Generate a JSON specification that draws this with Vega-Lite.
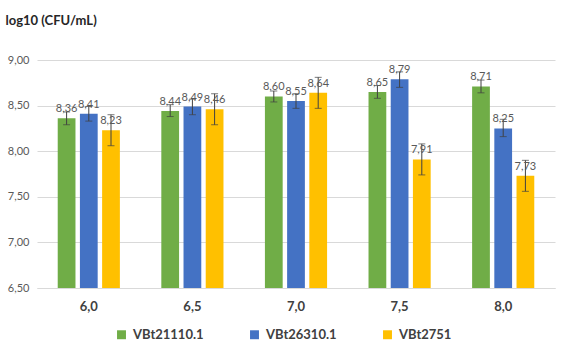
{
  "$schema": "https://vega.github.io/schema/vega-lite/v6.json",
  "width": 518,
  "height": 228,
  "autosize": {"type": "none"},
  "padding": {"left": 37, "top": 60, "right": 15, "bottom": 68},
  "background": "white",
  "config": {
    "font": "Lato",
    "locale": {"number": {"decimal": ",", "thousands": ".", "grouping": [3], "currency": ["", " €"]}},
    "view": {"stroke": null}
  },
  "data": {
    "values": [
      {"ph": "6,0", "strain": "VBt21110.1", "value": 8.36, "lo": 8.29, "hi": 8.43},
      {"ph": "6,0", "strain": "VBt26310.1", "value": 8.41, "lo": 8.33, "hi": 8.49},
      {"ph": "6,0", "strain": "VBt2751", "value": 8.23, "lo": 8.06, "hi": 8.40},
      {"ph": "6,5", "strain": "VBt21110.1", "value": 8.44, "lo": 8.38, "hi": 8.51},
      {"ph": "6,5", "strain": "VBt26310.1", "value": 8.49, "lo": 8.40, "hi": 8.57},
      {"ph": "6,5", "strain": "VBt2751", "value": 8.46, "lo": 8.29, "hi": 8.63},
      {"ph": "7,0", "strain": "VBt21110.1", "value": 8.60, "lo": 8.54, "hi": 8.66},
      {"ph": "7,0", "strain": "VBt26310.1", "value": 8.55, "lo": 8.47, "hi": 8.63},
      {"ph": "7,0", "strain": "VBt2751", "value": 8.64, "lo": 8.47, "hi": 8.81},
      {"ph": "7,5", "strain": "VBt21110.1", "value": 8.65, "lo": 8.58, "hi": 8.72},
      {"ph": "7,5", "strain": "VBt26310.1", "value": 8.79, "lo": 8.70, "hi": 8.87},
      {"ph": "7,5", "strain": "VBt2751", "value": 7.91, "lo": 7.74, "hi": 8.08},
      {"ph": "8,0", "strain": "VBt21110.1", "value": 8.71, "lo": 8.64, "hi": 8.78},
      {"ph": "8,0", "strain": "VBt26310.1", "value": 8.25, "lo": 8.16, "hi": 8.35},
      {"ph": "8,0", "strain": "VBt2751", "value": 7.73, "lo": 7.56, "hi": 7.90}
    ]
  },
  "encoding": {
    "x": {
      "field": "ph", "type": "nominal", "sort": null,
      "scale": {"paddingInner": 0.4, "paddingOuter": 0.2},
      "axis": {
        "title": null, "labelAngle": 0, "labelFontWeight": "bold", "labelFontSize": 13,
        "labelColor": "#404040", "labelPadding": 12, "ticks": false,
        "domainColor": "#D9D9D9", "domainWidth": 1
      }
    },
    "xOffset": {"field": "strain", "type": "nominal", "sort": null, "scale": {"paddingInner": 0.2, "paddingOuter": 0}}
  },
  "layer": [
    {
      "mark": {"type": "bar"},
      "encoding": {
        "y": {
          "field": "value", "type": "quantitative",
          "scale": {"domain": [6.5, 9.0], "zero": false, "nice": false},
          "axis": {
            "values": [6.5, 7.0, 7.5, 8.0, 8.5, 9.0], "format": ".2f",
            "title": "log10 (CFU/mL)", "titleAngle": 0, "titleX": -32, "titleY": -40,
            "titleAlign": "left", "titleBaseline": "middle", "titleFontSize": 13,
            "titleFontWeight": "bold", "titleColor": "#262626",
            "labelFontSize": 11, "labelColor": "#595959", "labelPadding": 8,
            "ticks": false, "domain": false, "gridColor": "#D9D9D9", "gridWidth": 1
          }
        },
        "y2": {"datum": 6.5},
        "color": {
          "field": "strain", "type": "nominal", "sort": null,
          "scale": {"domain": ["VBt21110.1", "VBt26310.1", "VBt2751"], "range": ["#70AD47", "#4472C4", "#FFC000"]},
          "legend": {
            "title": null, "orient": "none", "direction": "horizontal",
            "legendX": 78, "legendY": 268, "symbolType": "square", "symbolSize": 80,
            "symbolStrokeWidth": 0, "labelFontSize": 13, "labelFontWeight": "bold",
            "labelColor": "#404040", "columnPadding": 44, "labelOffset": 5
          }
        }
      }
    },
    {
      "mark": {"type": "rule", "color": "#404040", "strokeWidth": 1},
      "encoding": {
        "y": {"field": "lo", "type": "quantitative"},
        "y2": {"field": "hi"}
      }
    },
    {
      "mark": {"type": "tick", "color": "#404040", "thickness": 1, "size": 7},
      "encoding": {"y": {"field": "lo", "type": "quantitative"}}
    },
    {
      "mark": {"type": "tick", "color": "#404040", "thickness": 1, "size": 7},
      "encoding": {"y": {"field": "hi", "type": "quantitative"}}
    },
    {
      "mark": {"type": "text", "color": "#595959", "fontSize": 11, "baseline": "alphabetic", "dy": -6},
      "encoding": {
        "y": {"field": "value", "type": "quantitative"},
        "text": {"field": "value", "type": "quantitative", "format": ".2f"}
      }
    }
  ]
}
